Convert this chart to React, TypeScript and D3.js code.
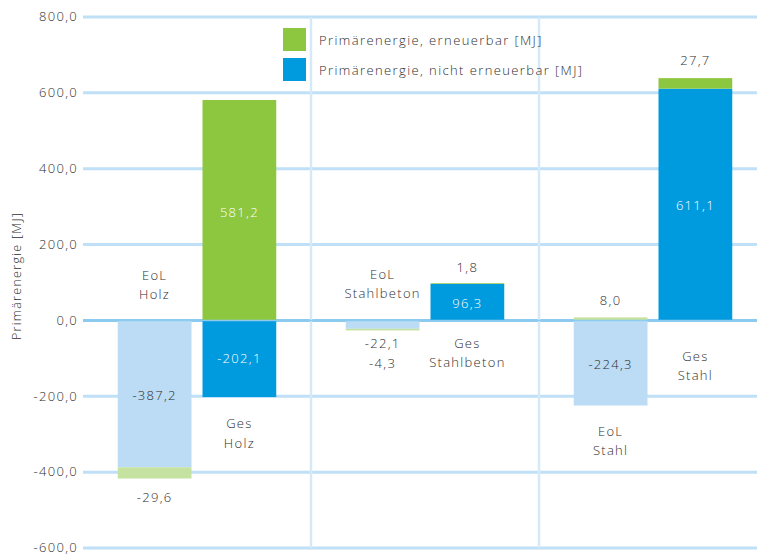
import React from "react";
import * as d3 from "d3";

// Primärenergie per building variant: End-of-Life (EoL) credits and total (Ges) values
const groups = ["Holz", "Stahlbeton", "Stahl"];
const barKinds = ["EoL", "Ges"];

// nicht erneuerbar [MJ]
const eolNonRenewable = [-387.2, -22.1, -224.3];
const gesNonRenewable = [-202.1, 96.3, 611.1];
// erneuerbar [MJ]
const eolRenewable = [-29.6, -4.3, 8.0];
const gesRenewable = [581.2, 1.8, 27.7];

const yTicks = [800, 600, 400, 200, 0, -200, -400, -600];

const legendItems = [
  { label: "Primärenergie, erneuerbar [MJ]", color: "#8dc63f" },
  { label: "Primärenergie, nicht erneuerbar [MJ]", color: "#009ade" },
];

const W = 757;
const H = 555;
const FONT = "'Open Sans', 'DejaVu Sans', sans-serif";
const TEXT = "#2f2f2f";

const fmt = (v: number) => v.toFixed(1).replace(".", ",");

type Seg = { y0: number; y1: number; color: string; value: number };

// stack a pair of values: positive values build upward from 0, negative ones downward
function stack(first: number, second: number, c1: string, c2: string): Seg[] {
  const segs: Seg[] = [];
  let pos = 0;
  let neg = 0;
  [
    { v: first, c: c1 },
    { v: second, c: c2 },
  ].forEach(({ v, c }) => {
    if (v >= 0) {
      segs.push({ y0: pos, y1: pos + v, color: c, value: v });
      pos += v;
    } else {
      segs.push({ y0: neg, y1: neg + v, color: c, value: v });
      neg += v;
    }
  });
  return segs;
}

export default function App() {
  const y = d3.scaleLinear().domain([-600, 800]).range([548, 17]);
  const x0 = d3.scaleBand<string>().domain(groups).range([83, 767]).paddingInner(0);
  const x1 = d3
    .scaleBand<string>()
    .domain(barKinds)
    .range([0, x0.bandwidth()])
    .paddingInner(0.13)
    .paddingOuter(0.41);

  const bw = x1.bandwidth();

  const textStyle = {
    fontFamily: FONT,
    fontSize: 13,
    fontWeight: 300,
    letterSpacing: 1.3,
  } as React.CSSProperties;

  const cx = (g: string, k: string) => (x0(g) as number) + (x1(k) as number) + bw / 2;

  return (
    <svg width={W} height={H} style={{ position: "absolute", left: 0, top: 0, background: "#fff" }}>
      {/* horizontal gridlines */}
      {yTicks.map((t) => (
        <line
          key={t}
          x1={83}
          x2={W}
          y1={y(t)}
          y2={y(t)}
          stroke={t === 0 ? "#8dcaf0" : "#bfe0f6"}
          strokeWidth={3}
        />
      ))}
      {/* group separators */}
      {groups.slice(1).map((g) => (
        <line
          key={g}
          x1={x0(g) as number}
          x2={x0(g) as number}
          y1={y(800)}
          y2={y(-600)}
          stroke="#d6e9f8"
          strokeWidth={2.5}
        />
      ))}
      {/* tick labels */}
      {yTicks.map((t) => (
        <text
          key={"l" + t}
          x={78}
          y={y(t)}
          dy="0.33em"
          textAnchor="end"
          fill={TEXT}
          style={textStyle}
        >
          {fmt(t)}
        </text>
      ))}
      {/* axis title */}
      <text
        transform={`translate(21,${276}) rotate(-90)`}
        textAnchor="middle"
        fill={TEXT}
        style={{ ...textStyle, fontSize: 12.5 }}
      >
        Primärenergie [MJ]
      </text>

      {/* bars */}
      {groups.map((g, i) => {
        const eol = stack(eolNonRenewable[i], eolRenewable[i], "#bbdcf4", "#c6e2a1");
        const ges = stack(gesNonRenewable[i], gesRenewable[i], "#009ade", "#8dc63f");
        return (
          <g key={g}>
            {[
              { k: "EoL", segs: eol },
              { k: "Ges", segs: ges },
            ].map(({ k, segs }) =>
              segs.map((s, j) => (
                <rect
                  key={k + j}
                  x={(x0(g) as number) + (x1(k) as number)}
                  width={bw}
                  y={y(Math.max(s.y0, s.y1))}
                  height={Math.abs(y(s.y0) - y(s.y1))}
                  fill={s.color}
                />
              ))
            )}
          </g>
        );
      })}
      {/* zero baseline on top of bars */}
      <line x1={83} x2={W} y1={y(0)} y2={y(0)} stroke="#8dcaf0" strokeWidth={1.5} />

      {/* value and category labels */}
      {(() => {
        const L: { x: number; y: number; t: string; c?: string }[] = [];
        // Holz
        L.push({ x: cx("Holz", "EoL"), y: 275, t: "EoL" });
        L.push({ x: cx("Holz", "EoL"), y: 294, t: "Holz" });
        L.push({ x: cx("Holz", "EoL"), y: y(eolNonRenewable[0] / 2) + 2, t: fmt(eolNonRenewable[0]) });
        L.push({ x: cx("Holz", "EoL"), y: y(eolNonRenewable[0] + eolRenewable[0]) + 19, t: fmt(eolRenewable[0]) });
        L.push({ x: cx("Holz", "Ges"), y: y(gesRenewable[0] / 2) + 2, t: fmt(gesRenewable[0]), c: "#fff" });
        L.push({ x: cx("Holz", "Ges"), y: y(gesNonRenewable[0] / 2), t: fmt(gesNonRenewable[0]), c: "#fff" });
        L.push({ x: cx("Holz", "Ges"), y: 423, t: "Ges" });
        L.push({ x: cx("Holz", "Ges"), y: 443, t: "Holz" });
        // Stahlbeton
        L.push({ x: cx("Stahlbeton", "EoL"), y: 274, t: "EoL" });
        L.push({ x: cx("Stahlbeton", "EoL"), y: 293, t: "Stahlbeton" });
        L.push({ x: cx("Stahlbeton", "EoL"), y: 343, t: fmt(eolNonRenewable[1]) });
        L.push({ x: cx("Stahlbeton", "EoL"), y: 363, t: fmt(eolRenewable[1]) });
        L.push({ x: cx("Stahlbeton", "Ges"), y: 267, t: fmt(gesRenewable[1]) });
        L.push({ x: cx("Stahlbeton", "Ges"), y: 303, t: fmt(gesNonRenewable[1]), c: "#fff" });
        L.push({ x: cx("Stahlbeton", "Ges"), y: 343, t: "Ges" });
        L.push({ x: cx("Stahlbeton", "Ges"), y: 362, t: "Stahlbeton" });
        // Stahl
        L.push({ x: cx("Stahl", "EoL"), y: 300, t: fmt(eolRenewable[2]) });
        L.push({ x: cx("Stahl", "EoL"), y: 364, t: fmt(eolNonRenewable[2]) });
        L.push({ x: cx("Stahl", "EoL"), y: 431, t: "EoL" });
        L.push({ x: cx("Stahl", "EoL"), y: 450, t: "Stahl" });
        L.push({ x: cx("Stahl", "Ges"), y: y(gesNonRenewable[2] + gesRenewable[2]) - 18, t: fmt(gesRenewable[2]) });
        L.push({ x: cx("Stahl", "Ges"), y: y(gesNonRenewable[2] / 2) + 1, t: fmt(gesNonRenewable[2]), c: "#fff" });
        L.push({ x: cx("Stahl", "Ges"), y: 356, t: "Ges" });
        L.push({ x: cx("Stahl", "Ges"), y: 375, t: "Stahl" });
        return L.map((l, i) => (
          <text
            key={i}
            x={l.x}
            y={l.y}
            dy="0.35em"
            textAnchor="middle"
            fill={l.c ?? TEXT}
            style={textStyle}
          >
            {l.t}
          </text>
        ));
      })()}

      {/* legend */}
      {legendItems.map((it, i) => (
        <g key={it.label} transform={`translate(283,${28 + i * 30})`}>
          <rect width={23} height={23} fill={it.color} />
          <text x={36} y={12} dy="0.35em" fill={TEXT} style={{ ...textStyle, fontSize: 13, letterSpacing: 1.4 }}>
            {it.label}
          </text>
        </g>
      ))}
    </svg>
  );
}
